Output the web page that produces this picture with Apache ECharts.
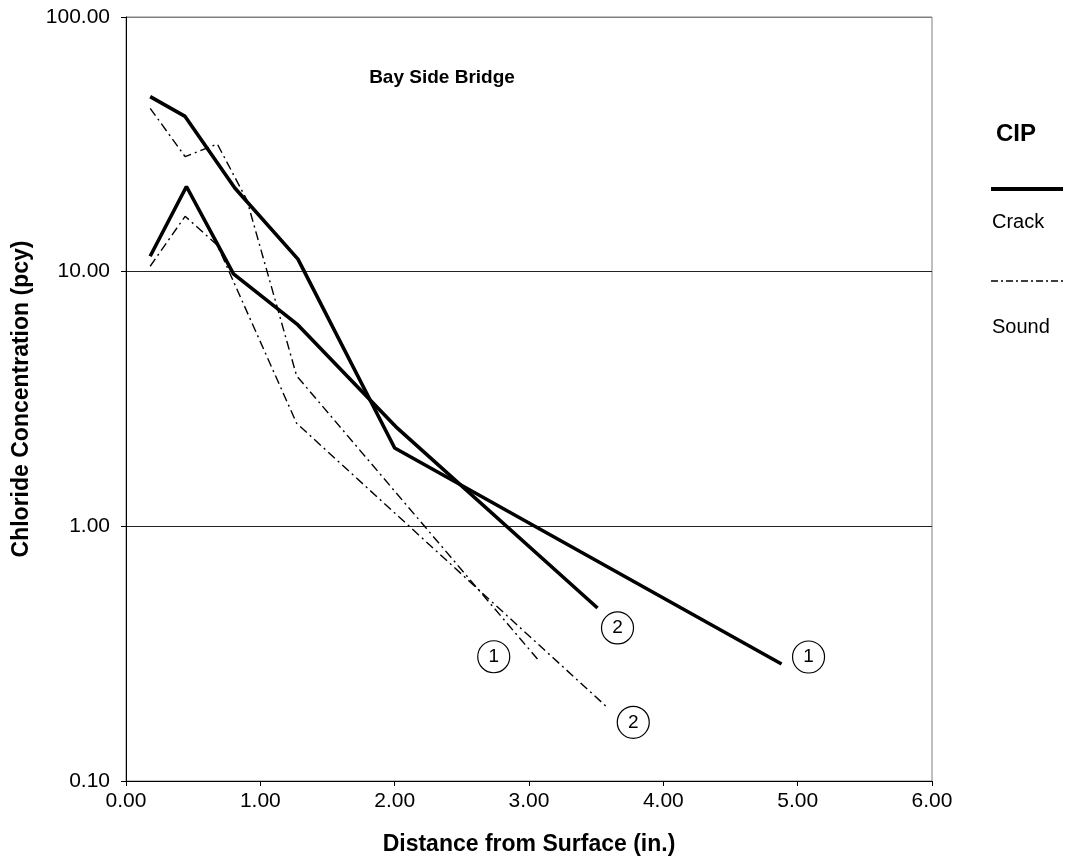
<!DOCTYPE html>
<html><head><meta charset="utf-8">
<script src="https://cdn.jsdelivr.net/npm/echarts@6/dist/echarts.min.js"></script>
<style>html,body{margin:0;padding:0;background:#fff}#c{width:1066px;height:866px}</style>
</head><body><div id="c"></div>
<script>
// ---- data ----
const crack1X = [0.18, 0.44, 0.81, 1.28, 2.00, 4.88];
const crack1Y = [48.7, 40.7, 21.3, 11.2, 2.03, 0.288];
const crack2X = [0.18, 0.45, 0.80, 1.28, 2.02, 3.51];
const crack2Y = [11.5, 21.6, 9.8, 6.18, 2.43, 0.478];
const sound1X = [0.18, 0.44, 0.68, 0.90, 1.27, 3.08];
const sound1Y = [43.8, 28.3, 31.7, 19.1, 3.90, 0.294];
const sound2X = [0.18, 0.44, 0.68, 1.27, 3.59];
const sound2Y = [10.5, 16.5, 12.7, 2.54, 0.193];
const seriesTags = ['1', '2', '1', '2'];
const legendNames = ['Crack', 'Sound'];
const titleText = 'Bay Side Bridge';
const legendTitle = 'CIP';
const xName = 'Distance from Surface (in.)';
const yName = 'Chloride Concentration (pcy)';

const FONT = '"Liberation Sans", Arial, sans-serif';
const pairs = (xs, ys) => xs.map((x, i) => [x, ys[i]]);

function endMark(xs, ys, tag, offset) {
  return {
    symbol: 'circle', symbolSize: 32, symbolOffset: offset,
    itemStyle: { color: '#fff', borderColor: '#000', borderWidth: 1.2 },
    label: { show: true, formatter: tag, color: '#000', fontSize: 19, fontFamily: FONT },
    data: [{ coord: [xs[xs.length - 1], ys[ys.length - 1]] }]
  };
}

const solid = { color: '#000', width: 3.6, type: 'solid' };
const dashdot = { color: '#000', width: 1.4, type: [9, 4, 2, 4] };

const chart = echarts.init(document.getElementById('c'), null, { renderer: 'canvas' });
chart.setOption({
  animation: false,
  backgroundColor: '#fff',
  textStyle: { fontFamily: FONT },
  title: {
    text: titleText, left: 437, top: 63, textAlign: 'center',
    textStyle: { fontFamily: FONT, fontWeight: 'bold', fontSize: 19, color: '#000' }
  },
  grid: { left: 126, right: 134, top: 17, bottom: 85, show: true, borderColor: '#808080', borderWidth: 1 },
  xAxis: {
    type: 'value', min: 0, max: 6, interval: 1,
    name: xName, nameLocation: 'middle', nameGap: 52,
    nameTextStyle: { fontFamily: FONT, fontWeight: 'bold', fontSize: 23, color: '#000' },
    axisLine: { lineStyle: { color: '#000', width: 1 } },
    axisTick: { show: true, inside: false, length: 5, lineStyle: { color: '#000' } },
    axisLabel: { formatter: v => v.toFixed(2), fontSize: 21, color: '#000', margin: 10, fontFamily: FONT },
    splitLine: { show: false }
  },
  yAxis: {
    type: 'log', logBase: 10, min: 0.1, max: 100,
    name: yName, nameLocation: 'middle', nameGap: 93, nameRotate: 90,
    nameTextStyle: { fontFamily: FONT, fontWeight: 'bold', fontSize: 23, color: '#000' },
    axisLine: { show: true, lineStyle: { color: '#000', width: 1 } },
    axisTick: { show: true, inside: false, length: 5, lineStyle: { color: '#000' } },
    axisLabel: { formatter: v => Number(v).toFixed(2), fontSize: 21, color: '#000', margin: 16, fontFamily: FONT },
    splitLine: { show: true, lineStyle: { color: ['#000', '#222', '#222', '#808080'], width: 1 } },
    minorTick: { show: false }, minorSplitLine: { show: false }
  },
  series: [
    { name: legendNames[0], type: 'line', data: pairs(crack1X, crack1Y), showSymbol: false, lineStyle: solid, z: 3,
      markPoint: endMark(crack1X, crack1Y, seriesTags[0], [27, -7]) },
    { name: legendNames[0] + ' 2', type: 'line', data: pairs(crack2X, crack2Y), showSymbol: false, lineStyle: solid, z: 3,
      markPoint: endMark(crack2X, crack2Y, seriesTags[1], [20, 20]) },
    { name: legendNames[1], type: 'line', data: pairs(sound1X, sound1Y), showSymbol: false, lineStyle: dashdot, z: 2,
      markPoint: endMark(sound1X, sound1Y, seriesTags[2], [-46, -5]) },
    { name: legendNames[1] + ' 2', type: 'line', data: pairs(sound2X, sound2Y), showSymbol: false, lineStyle: dashdot, z: 2,
      markPoint: endMark(sound2X, sound2Y, seriesTags[3], [25, 14]) }
  ],
  graphic: [
    { type: 'text', left: 996, top: 122, style: { text: legendTitle, fontFamily: FONT, fontWeight: 'bold', fontSize: 24, fill: '#000' } },
    { type: 'line', shape: { x1: 991, y1: 189, x2: 1063, y2: 189 }, style: { stroke: '#000', lineWidth: 4 } },
    { type: 'text', left: 992, top: 212, style: { text: legendNames[0], fontFamily: FONT, fontSize: 20, fill: '#000' } },
    { type: 'line', shape: { x1: 991, y1: 281, x2: 1063, y2: 281 }, style: { stroke: '#000', lineWidth: 1.5, lineDash: [7, 3, 2, 3] } },
    { type: 'text', left: 992, top: 317, style: { text: legendNames[1], fontFamily: FONT, fontSize: 20, fill: '#000' } }
  ]
});
</script></body></html>
